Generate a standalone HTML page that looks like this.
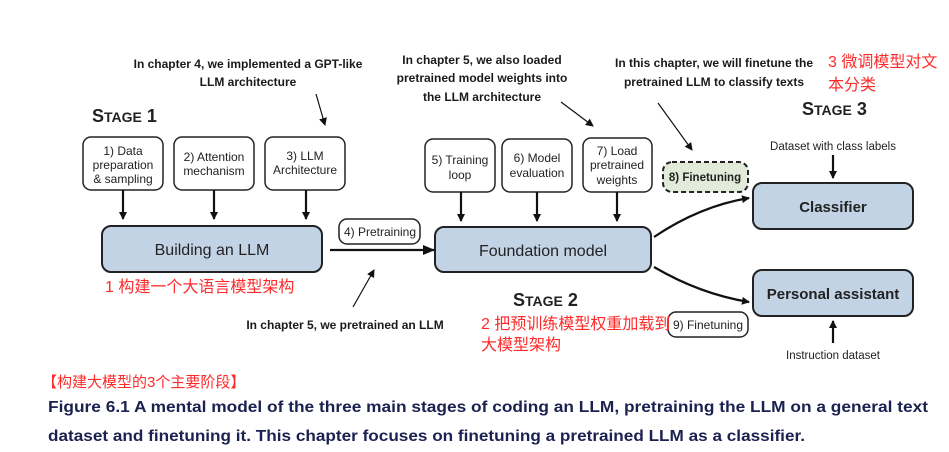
<!DOCTYPE html>
<html><head><meta charset="utf-8"><style>
html,body{margin:0;padding:0;background:#fff;}
svg{display:block;}
.s{font-family:"Liberation Sans",sans-serif;fill:#222;}
.a{font-family:"Liberation Sans Narrow","Liberation Sans",sans-serif;font-weight:bold;font-size:12px;fill:#1a1a1a;}
.r{font-family:"Liberation Sans","Noto Sans CJK SC",sans-serif;fill:#ff2a2a;font-size:16px;}
.c{font-family:"Liberation Sans",sans-serif;font-weight:bold;font-size:15.5px;fill:#1b2150;}
</style></head><body>
<svg width="949" height="452" viewBox="0 0 949 452" xmlns="http://www.w3.org/2000/svg">
<defs>
<marker id="ah" markerWidth="8" markerHeight="8" refX="7" refY="4" orient="auto" markerUnits="userSpaceOnUse"><path d="M0,0 L8,4 L0,8 z" fill="#111"/></marker>
<marker id="ah2" markerWidth="12" markerHeight="10" refX="11" refY="5" orient="auto" markerUnits="userSpaceOnUse"><path d="M0,0 L12,5 L0,10 z" fill="#111"/></marker>
</defs>
<g fill="#fff" stroke="#222" stroke-width="1.5">
<rect x="83" y="137" width="80" height="53" rx="8"/>
<rect x="174" y="137" width="80" height="53" rx="8"/>
<rect x="265" y="137" width="80" height="53" rx="8"/>
<rect x="425" y="139" width="70" height="53" rx="8"/>
<rect x="502" y="139" width="70" height="53" rx="8"/>
<rect x="583" y="138" width="69" height="54" rx="8"/>
<rect x="339" y="219" width="81" height="25" rx="8"/>
<rect x="668" y="312" width="80" height="25" rx="8"/>
</g>
<g fill="#c3d3e6" stroke="#222" stroke-width="2">
<rect x="102" y="226" width="220" height="46" rx="9"/>
<rect x="435" y="227" width="216" height="45" rx="9"/>
<rect x="753" y="183" width="160" height="46" rx="9"/>
<rect x="753" y="270" width="160" height="46" rx="9"/>
</g>
<rect x="663" y="162" width="85" height="30" rx="9" fill="#e2ead9" stroke="#222" stroke-width="2" stroke-dasharray="5,3"/>
<g stroke="#111" stroke-width="2.2" fill="none">
<line x1="123" y1="190" x2="123" y2="219" marker-end="url(#ah)"/>
<line x1="214" y1="190" x2="214" y2="219" marker-end="url(#ah)"/>
<line x1="306" y1="190" x2="306" y2="219" marker-end="url(#ah)"/>
<line x1="461" y1="192" x2="461" y2="221" marker-end="url(#ah)"/>
<line x1="537" y1="192" x2="537" y2="221" marker-end="url(#ah)"/>
<line x1="617" y1="192" x2="617" y2="221" marker-end="url(#ah)"/>
<line x1="833" y1="155" x2="833" y2="178" marker-end="url(#ah)"/>
<line x1="833" y1="343" x2="833" y2="321" marker-end="url(#ah)"/>
<line x1="330" y1="250" x2="434" y2="250" marker-end="url(#ah2)"/>
<path d="M654,237 Q700,206 749,198" marker-end="url(#ah)"/>
<path d="M654,267 Q700,294 749,302" marker-end="url(#ah)"/>
</g>
<g stroke="#111" stroke-width="1.2" fill="none">
<line x1="316" y1="94" x2="325" y2="125" marker-end="url(#ah)"/>
<line x1="561" y1="102" x2="593" y2="126" marker-end="url(#ah)"/>
<line x1="658" y1="103" x2="692" y2="150" marker-end="url(#ah)"/>
<line x1="353" y1="307" x2="374" y2="270" marker-end="url(#ah)"/>
</g>
<g class="s" font-size="12" text-anchor="middle">
<text x="123" y="155">1) Data</text><text x="123" y="169">preparation</text><text x="123" y="183">&amp; sampling</text>
<text x="214" y="161">2) Attention</text><text x="214" y="175">mechanism</text>
<text x="305" y="160">3) LLM</text><text x="305" y="174">Architecture</text>
<text x="460" y="164">5) Training</text><text x="460" y="179">loop</text>
<text x="537" y="162">6) Model</text><text x="537" y="177">evaluation</text>
<text x="617" y="155">7) Load</text><text x="617" y="169">pretrained</text><text x="617" y="184">weights</text>
<text x="380" y="236">4) Pretraining</text>
<text x="708" y="329">9) Finetuning</text>
<text x="705" y="181" font-weight="bold" font-size="11.5">8) Finetuning</text>
<text x="833" y="150" font-size="11.5">Dataset with class labels</text>
<text x="833" y="359" font-size="11.5">Instruction dataset</text>
</g>
<g class="s" font-size="16" text-anchor="middle" fill="#1a1a1a">
<text x="212" y="255">Building an LLM</text>
<text x="543" y="256">Foundation model</text>
<text x="833" y="212" font-weight="bold" font-size="15">Classifier</text>
<text x="833" y="299" font-weight="bold" font-size="15">Personal assistant</text>
</g>
<g class="s" font-weight="bold" fill="#111">
<text x="92" y="122" font-size="18">S<tspan font-size="14">TAGE</tspan> 1</text>
<text x="513" y="306" font-size="18">S<tspan font-size="14">TAGE</tspan> 2</text>
<text x="802" y="115" font-size="18">S<tspan font-size="14">TAGE</tspan> 3</text>
</g>
<g class="a" text-anchor="middle">
<text x="248" y="68">In chapter 4, we implemented a GPT-like</text>
<text x="248" y="86">LLM architecture</text>
<text x="482" y="64">In chapter 5, we also loaded</text>
<text x="482" y="82">pretrained model weights into</text>
<text x="482" y="101">the LLM architecture</text>
<text x="714" y="67">In this chapter, we will finetune the</text>
<text x="714" y="86">pretrained LLM to classify texts</text>
<text x="345" y="329">In chapter 5, we pretrained an LLM</text>
</g>
<g class="r">
<text x="105" y="292">1 构建一个大语言模型架构</text>
<text x="481" y="329">2 把预训练模型权重加载到</text>
<text x="481" y="350">大模型架构</text>
<text x="828" y="67">3 微调模型对文</text>
<text x="828" y="90">本分类</text>
<text x="42" y="387" font-size="15">【构建大模型的3个主要阶段】</text>
</g>
<text class="c" x="48" y="412" textLength="880" lengthAdjust="spacingAndGlyphs">Figure 6.1 A mental model of the three main stages of coding an LLM, pretraining the LLM on a general text</text>
<text class="c" x="48" y="441" textLength="757" lengthAdjust="spacingAndGlyphs">dataset and finetuning it. This chapter focuses on finetuning a pretrained LLM as a classifier.</text>
</svg>
</body></html>
